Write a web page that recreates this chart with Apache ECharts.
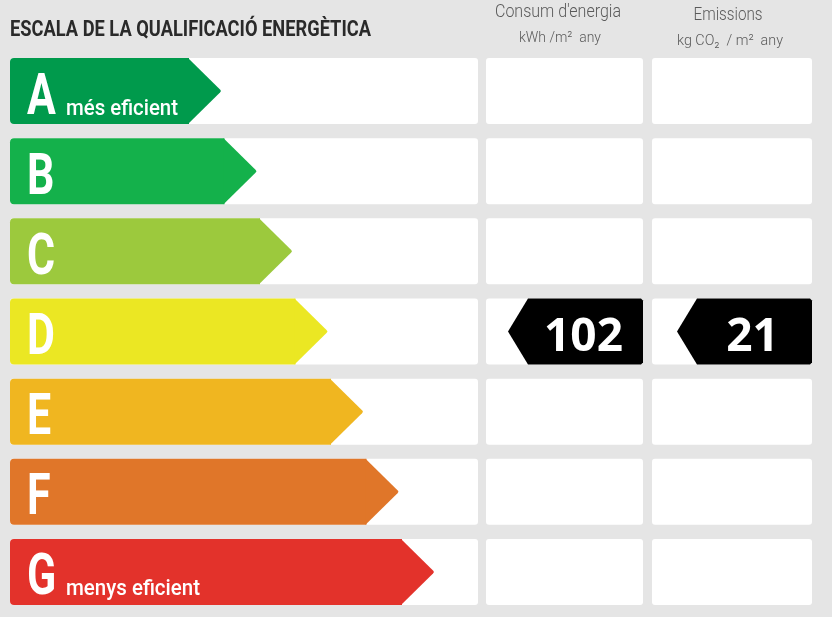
<!DOCTYPE html>
<html>
<head>
<meta charset="utf-8">
<script src="https://cdn.jsdelivr.net/npm/echarts@6/dist/echarts.min.js"></script>
<style>
  html, body { margin: 0; padding: 0; background: #e5e5e5; }
  #chart { width: 832px; height: 617px; }
</style>
</head>
<body>
<div id="chart"></div>
<script>
// energy classes, top (best) to bottom (worst)
var classes = ['A', 'B', 'C', 'D', 'E', 'F', 'G'];
var classNotes = ['més eficient', '', '', '', '', '', 'menys eficient'];
var ratedClass = 'D';
var consumption = 102;   // kWh/m2 any
var emissions = 21;      // kg CO2/m2 any

var classColors = ['#009a4c', '#14b14b', '#9cc93d', '#ebe723', '#f0b620', '#e07629', '#e3322b'];
var face = 'Roboto, "Liberation Sans", sans-serif';

var myChart = echarts.init(document.getElementById('chart'));

// squeeze text into a given width (reference uses a condensed face)
var ctx = document.createElement('canvas').getContext('2d');
function squeeze(text, font, width) {
  ctx.font = font;
  return width / ctx.measureText(text).width;
}

// columns in x-axis units (axis spans the panel width)
var cols = [[0, 468], [476, 633], [642, 802]];
var noteWidths = { 'més eficient': 112, 'menys eficient': 134 };

function classRow(params, api) {
  var i = api.value(1);
  var band = api.size([0, 1])[1];
  var h = band * 66 / 80.17;
  var cy = api.coord([0, i])[1];
  var top = cy - h / 2;
  var px = function (v) { return api.coord([v, i])[0]; };
  var x0 = px(0);
  var tip = px(211 + i * 35.5);
  var body = tip - h / 2;
  var kids = [];
  cols.forEach(function (c) {
    kids.push({
      type: 'rect',
      shape: { x: px(c[0]), y: top, width: px(c[1]) - px(c[0]), height: h, r: 3 },
      style: { fill: '#fff' }
    });
  });
  var color = classColors[i];
  kids.push({
    type: 'rect',
    shape: { x: x0, y: top, width: body - x0 + 1, height: h, r: [4, 0, 0, 4] },
    style: { fill: color }
  });
  kids.push({
    type: 'polygon',
    shape: { points: [[body, top], [tip - 1, cy - 1.5], [tip, cy], [tip - 1, cy + 1.5], [body, top + h]] },
    style: { fill: color }
  });
  kids.push({
    type: 'text',
    x: x0 + 17, y: cy + 8,
    scaleX: 0.74,
    style: {
      text: api.value(2), fill: '#fff', font: 'bold 58px ' + face,
      verticalAlign: 'middle', align: 'left'
    }
  });
  var note = api.value(3);
  if (note) {
    var nf = '500 22px ' + face;
    kids.push({
      type: 'text',
      x: x0 + 56, y: cy + 18,
      scaleX: squeeze(note, nf, noteWidths[note]),
      style: {
        text: note, fill: '#fff', font: nf,
        verticalAlign: 'middle', align: 'left'
      }
    });
  }
  return { type: 'group', children: kids };
}

function ratingTag(params, api) {
  var col = cols[api.value(0)];
  var i = api.value(1);
  var band = api.size([0, 1])[1];
  var h = band * 66 / 80.17;
  var cy = api.coord([0, i])[1];
  var top = cy - h / 2;
  var right = api.coord([col[1], i])[0];
  var tip = right - 135;
  var corner = tip + 20;
  return {
    type: 'group',
    children: [{
      type: 'polygon',
      shape: { points: [[tip, cy], [corner, top], [right - 2, top], [right, top + 2],
                        [right, top + h - 2], [right - 2, top + h], [corner, top + h]] },
      style: { fill: '#000' }
    }, {
      type: 'text',
      x: (corner + right) / 2 - 2, y: cy + 6,
      style: {
        text: String(api.value(2)), fill: '#fff',
        font: 'bold 46px "Open Sans", sans-serif',
        align: 'center', verticalAlign: 'middle'
      }
    }]
  };
}

var ratedIndex = classes.indexOf(ratedClass);

function header(text, x, y, size, width, weight, color, align) {
  var font = (weight || 'normal') + ' ' + size + 'px ' + face;
  return {
    type: 'text', x: x, y: y,
    scaleX: squeeze(text, font, width),
    style: { text: text, fill: color || '#5a5a5a', font: font, align: align || 'center', verticalAlign: 'middle' }
  };
}

var option = {
  backgroundColor: '#e5e5e5',
  animation: false,
  grid: { left: 10, right: 20, top: 51, height: 561 },
  xAxis: { type: 'value', min: 0, max: 802, show: false },
  yAxis: { type: 'category', data: classes, inverse: true, show: false },
  graphic: [
    header('ESCALA DE LA QUALIFICACIÓ ENERGÈTICA', 10, 30, 22, 361, 'bold', '#2a2a2a', 'left'),
    header("Consum d'energia", 558, 12, 19, 126, '300'),
    header('kWh /m²  any', 560, 38, 15, 82, '300'),
    header('Emissions', 728, 15, 19, 69, '300'),
    header('kg CO₂  / m²  any', 730, 41, 15, 106, '300')
  ],
  series: [
    {
      type: 'custom',
      renderItem: classRow,
      encode: { x: 0, y: 1 },
      data: classes.map(function (c, i) { return [0, i, c, classNotes[i]]; })
    },
    {
      type: 'custom',
      renderItem: ratingTag,
      encode: { y: 1 },
      data: [[1, ratedIndex, consumption], [2, ratedIndex, emissions]]
    }
  ]
};

myChart.setOption(option);

window.addEventListener('resize', function () {
  myChart.resize();
});
</script>
</body>
</html>
